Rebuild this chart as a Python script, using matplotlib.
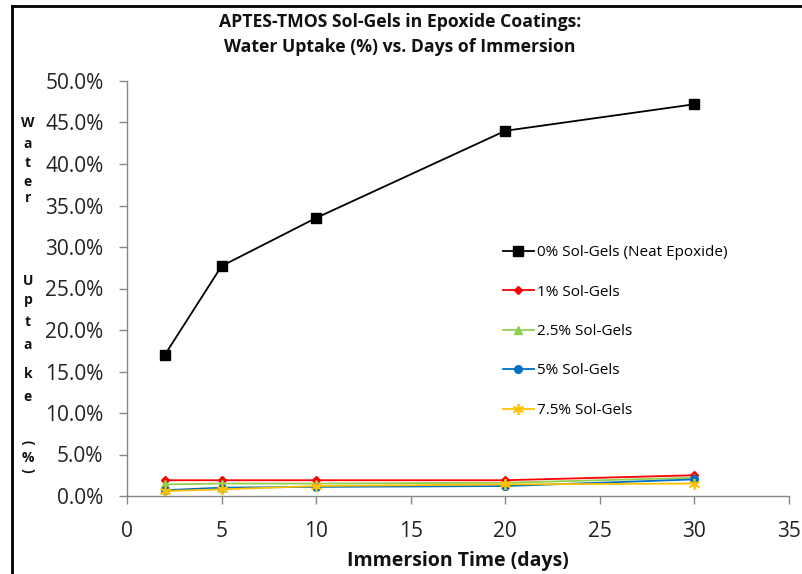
import matplotlib
matplotlib.use("Agg")
import matplotlib.pyplot as plt
from matplotlib.lines import Line2D
from matplotlib.ticker import FuncFormatter, MultipleLocator

plt.rcParams['font.family'] = ['Open Sans', 'DejaVu Sans']

# Immersion days and water uptake (%) for each sol-gel loading
days = [2, 5, 10, 20, 30]
neat_epoxide = [17.0, 27.7, 33.5, 44.0, 47.2]
solgel_1 = [1.9, 1.9, 1.9, 1.9, 2.5]
solgel_2_5 = [1.4, 1.5, 1.5, 1.6, 2.2]
solgel_5 = [0.7, 1.0, 1.1, 1.2, 2.0]
solgel_7_5 = [0.6, 0.8, 1.2, 1.4, 1.5]

series_labels = ["0% Sol-Gels (Neat Epoxide)", "1% Sol-Gels", "2.5% Sol-Gels",
                 "5% Sol-Gels", "7.5% Sol-Gels"]
title_lines = ["APTES-TMOS Sol-Gels in Epoxide Coatings:",
               "Water Uptake (%) vs. Days of Immersion"]
x_label = "Immersion Time (days)"
y_label_chars = ["W", "a", "t", "e", "r", "U", "p", "t", "a", "k", "e", "(", "%", ")"]

W, H = 802, 574
fig = plt.figure(figsize=(W / 100, H / 100), dpi=100)
fig.patch.set_facecolor("white")
ax = fig.add_axes([127 / W, 1 - 496 / H, (789 - 127) / W, (496 - 81) / H])

styles = [
    dict(color="black", marker="s", markersize=6.5),
    dict(color="#FF0000", marker="D", markersize=4.5),
    dict(color="#92D050", marker="^", markersize=5.5),
    dict(color="#0070C0", marker="o", markersize=5.5),
    dict(color="#FFC000", marker=(6, 2, 0), markersize=8, markeredgewidth=1.2),
]
series = [neat_epoxide, solgel_1, solgel_2_5, solgel_5, solgel_7_5]
for vals, lab, st in zip(series, series_labels, styles):
    ax.plot(days, vals, label=lab, linewidth=1.3, **st)

ax.set_xlim(0, 35)
ax.set_ylim(0, 50)
ax.xaxis.set_major_locator(MultipleLocator(5))
ax.yaxis.set_major_locator(MultipleLocator(5))
ax.yaxis.set_major_formatter(FuncFormatter(lambda v, p: f"{v:.1f}%"))

for s in ["top", "right"]:
    ax.spines[s].set_visible(False)
for s in ["left", "bottom"]:
    ax.spines[s].set_color("#868686")
    ax.spines[s].set_linewidth(1.0)
ax.tick_params(axis="both", colors="#868686", length=6, width=1.0,
               labelcolor="#222222", labelsize=15)
ax.tick_params(axis="y", pad=11)
ax.tick_params(axis="x", pad=12)

leg = ax.legend(loc="upper left", bbox_to_anchor=((497 - 127) / (789 - 127), (496 - 239) / (496 - 81)),
                frameon=False, fontsize=11, labelspacing=1.6, handlelength=2.0,
                handletextpad=0.2, borderaxespad=0)

for i, line in enumerate(title_lines):
    fig.text(400 / W, 1 - (22 + 25 * i) / H, line, ha="center", va="center",
             fontsize=12.7, fontweight="bold", color="#111111")

fig.text(458 / W, 1 - 561 / H, x_label, ha="center", va="center",
         fontsize=14, fontweight="bold", color="#111111")

y_positions = [123, 144, 163, 182, 198, 281, 300, 322, 345, 374, 397, 442, 458, 470]
for ch, yp in zip(y_label_chars, y_positions):
    rot = 270 if ch in "()" else 0
    fig.text(28 / W, 1 - yp / H, ch, ha="center", va="center", rotation=rot,
             fontsize=10, fontweight="bold", color="#111111")

# Chart area frame
fig.add_artist(Line2D([12 / W, 12 / W], [1 - 6 / H, -0.05], transform=fig.transFigure,
                      color="black", linewidth=2))
fig.add_artist(Line2D([12 / W, 1.05], [1 - 6 / H, 1 - 6 / H], transform=fig.transFigure,
                      color="black", linewidth=2))

fig.savefig("out.png", dpi=100, facecolor="white")
